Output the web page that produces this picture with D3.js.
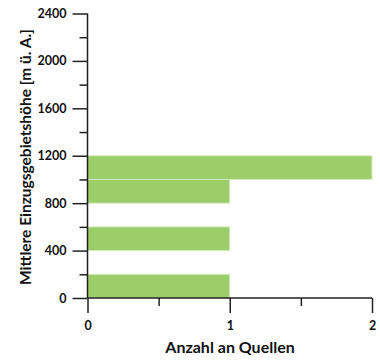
<!DOCTYPE html>
<html><head><meta charset="utf-8">
<script src="https://cdn.jsdelivr.net/npm/d3@7"></script>
<style>body{margin:0;background:#fff}svg{display:block}text{font-family:Lato,"Open Sans",sans-serif;font-weight:bold;fill:#111}</style>
</head><body><svg id="c" width="380" height="360"></svg>
<script>
const binStart = [0, 400, 800, 1000];
const binEnd = [200, 600, 1000, 1200];
const counts = [1, 1, 1, 2];
const yTickLabels = [0, 400, 800, 1200, 1600, 2000, 2400];
const yMinorTicks = [200, 600, 1000, 1400, 1800, 2200];
const xTickLabels = [0, 1, 2];
const xMinorTicks = [0.5, 1.5];
const xTitle = "Anzahl an Quellen";
const yTitle = "Mittlere Einzugsgebietshöhe [m ü. A.]";

const svg = d3.select("#c");
const x = d3.scaleLinear().domain([0, 2]).range([87.5, 372]);
const y = d3.scaleLinear().domain([0, 2400]).range([298, 13.5]);

svg.selectAll("rect.bar").data(counts).join("rect")
  .attr("class","bar")
  .attr("x", x(0))
  .attr("y", (d,i)=>y(binEnd[i]))
  .attr("width", d=>x(d)-x(0))
  .attr("height", (d,i)=>y(binStart[i])-y(binEnd[i]))
  .attr("fill","#9bcd69")
  .attr("stroke","#d6ecc2").attr("stroke-width",1);

const col = "#222";
const gy = svg.append("g").attr("transform",`translate(${x(0)},0)`);
gy.call(d3.axisLeft(y).tickValues(yTickLabels).tickSize(15).tickPadding(6).tickFormat(d3.format("d")));
const gyMinor = svg.append("g").attr("transform",`translate(${x(0)},0)`);
gyMinor.call(d3.axisLeft(y).tickValues(yMinorTicks).tickSize(8).tickFormat(""));
const gx = svg.append("g").attr("transform",`translate(0,${y(0)})`);
gx.call(d3.axisBottom(x).tickValues(xTickLabels).tickSize(15).tickPadding(8).tickFormat(d3.format("d")));
const gxMinor = svg.append("g").attr("transform",`translate(0,${y(0)})`);
gxMinor.call(d3.axisBottom(x).tickValues(xMinorTicks).tickSize(8).tickFormat(""));

[gy,gyMinor,gx,gxMinor].forEach(g=>{
  g.selectAll("path").attr("stroke",col).attr("stroke-width",1.5);
  g.selectAll("line").attr("stroke",col).attr("stroke-width",1.5);
  g.selectAll("text").attr("font-size",12.5).attr("font-family","Lato, 'Open Sans', sans-serif").attr("font-weight","bold").attr("fill","#111");
});
gyMinor.select("path").remove();
gxMinor.select("path").remove();
gy.select("path").attr("d",`M0,${y(2400)}V${y(0)}`);
gx.select("path").attr("d",`M${x(0)},0H${x(2)}`);

svg.append("text").attr("x", 230).attr("y", 353).attr("text-anchor","middle")
  .attr("font-size",16).text(xTitle);
svg.append("text").attr("transform","translate(31,157) rotate(-90)").attr("text-anchor","middle")
  .attr("font-size",15.5).text(yTitle);
</script></body></html>
